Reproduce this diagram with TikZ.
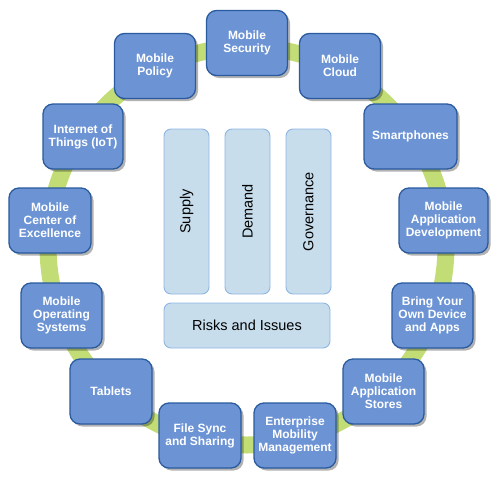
\documentclass[tikz,border=0pt]{standalone}
\usepackage{fontspec}
\setmainfont{Liberation Sans}
\usetikzlibrary{positioning,shadows}
\definecolor{ringgreen}{HTML}{C3DD76}
\definecolor{topicblue}{HTML}{6C94D5}
\definecolor{topicline}{HTML}{2A5B9E}
\definecolor{pillarblue}{HTML}{C7DDEC}
\definecolor{pillarline}{HTML}{8FB5E4}

\begin{document}
\begin{tikzpicture}[x=1pt, y=-1pt,
    topic/.style={rectangle, rounded corners=10pt, draw=topicline, line width=1.3pt, fill=topicblue,
        minimum width=81pt, minimum height=65pt, align=center, text=white, inner sep=2pt,
        font=\bfseries\fontsize{12}{13}\selectfont,
        drop shadow={shadow xshift=2.5pt, shadow yshift=-2.5pt, fill=black, opacity=0.3}},
    pillar/.style={rectangle, rounded corners=7pt, draw=pillarline, line width=0.9pt, fill=pillarblue,
        minimum width=165pt, minimum height=45pt, font=\fontsize{14.5}{16}\selectfont}
]
    \useasboundingbox (0,0) rectangle (498,480);

    % Ring
    \draw[ringgreen, line width=17pt] (247,246) circle (199);

    % Topics around the ring
    \node[topic] (security) at (247,43) {Mobile\\Security};
    \node[topic] (cloud) at (340,66) {Mobile\\Cloud};
    \node[topic, minimum width=93pt] (smartphones) at (410.5,136.5) {Smartphones};
    \node[topic, minimum width=89pt] (appdev) at (443.5,220.5) {Mobile\\Application\\Development};
    \node[topic] (byod) at (432.5,315.5) {Bring Your\\Own Device\\and Apps};
    \node[topic] (appstores) at (383.5,391.5) {Mobile\\Application\\Stores};
    \node[topic, minimum width=82pt] (emm) at (295,435.5) {Enterprise\\Mobility\\Management};
    \node[topic, minimum width=82pt] (filesync) at (200,435.5) {File Sync\\and Sharing};
    \node[topic, minimum width=82pt] (tablets) at (111,391.5) {Tablets};
    \node[topic] (mobileos) at (61.5,315.5) {Mobile\\Operating\\Systems};
    \node[topic, minimum width=82pt] (coe) at (50,220.5) {Mobile\\Center of\\Excellence};
    \node[topic, minimum width=80pt] (iot) at (83,136.5) {Internet of\\Things (IoT)};
    \node[topic] (policy) at (155,66) {Mobile\\Policy};

    % Pillars in the middle
    \node[pillar, rotate=90] (supply) at (186.5,211.5) {Supply};
    \node[pillar, rotate=90] (demand) at (247.5,211.5) {Demand};
    \node[pillar, rotate=90] (governance) at (308.5,211.5) {Governance};
    \node[pillar, minimum width=166pt] (risks) at (247,325.5) {Risks and Issues};
\end{tikzpicture}
\end{document}
